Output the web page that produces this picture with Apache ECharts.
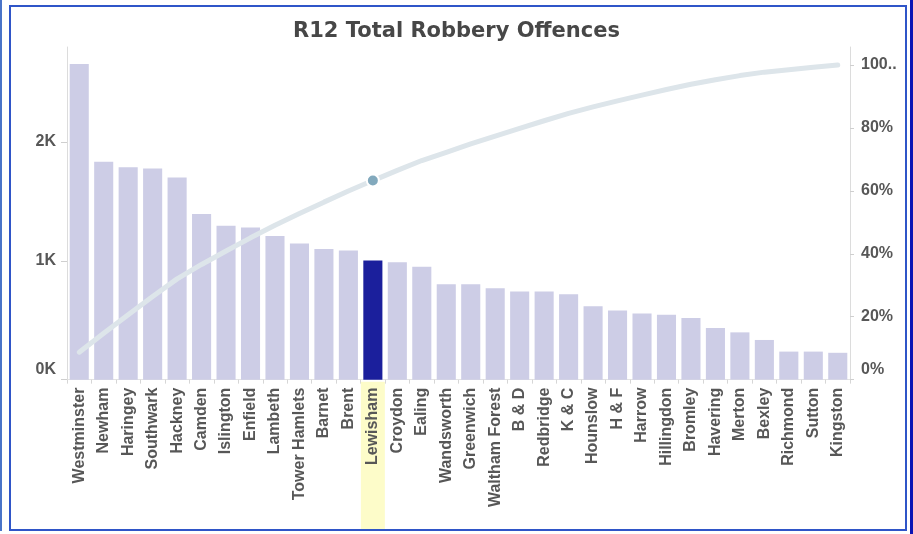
<!DOCTYPE html>
<html>
<head>
<meta charset="utf-8">
<script src="https://cdn.jsdelivr.net/npm/echarts@6/dist/echarts.min.js"></script>
<style>
  html, body { margin: 0; padding: 0; background: #fff; }
  #wrap { position: relative; width: 913px; height: 534px; overflow: hidden; background: #fff; }
  #chart { position: absolute; left: 0; top: 0; width: 913px; height: 534px; }
  .frame { position: absolute; left: 9px; top: 5px; width: 894px; height: 522px; border: 2px solid #2f55c8; pointer-events: none; }
  .outerL { position: absolute; left: 0; top: 0; width: 2px; height: 531px; background: #4a74c8; }
  .outerR { position: absolute; left: 910px; top: 0; width: 3px; height: 534px; background: #0a14b4; }
</style>
</head>
<body>
<div id="wrap">
  <div id="chart"></div>
  <div class="frame"></div>
  <div class="outerL"></div>
  <div class="outerR"></div>
</div>
<script>
const titleText = 'R12 Total Robbery Offences';
const boroughs = ['Westminster','Newham','Haringey','Southwark','Hackney','Camden','Islington','Enfield','Lambeth','Tower Hamlets','Barnet','Brent','Lewisham','Croydon','Ealing','Wandsworth','Greenwich','Waltham Forest','B & D','Redbridge','K & C','Hounslow','H & F','Harrow','Hillingdon','Bromley','Havering','Merton','Bexley','Richmond','Sutton','Kingston'];
const offences = [2657,1835,1788,1777,1702,1395,1295,1281,1209,1147,1100,1086,1003,988,950,802,802,769,741,741,718,618,582,557,546,518,434,398,334,236,236,226];
const highlighted = 'Lewisham';
const leftTicks = [0, 1000, 2000];
const rightTicks = [0, 0.2, 0.4, 0.6, 0.8, 1.0];

// Running share of total (Pareto line) derived from the bar values
const total = offences.reduce((a, b) => a + b, 0);
let run = 0;
const cumShare = offences.map(v => { run += v; return run / total; });

const chart = echarts.init(document.getElementById('chart'));
const labelFont = 'Liberation Sans, Arial, sans-serif';
const labelColor = '#575757';
const baseTxt = { fontFamily: labelFont, fontSize: 16, fontWeight: 'bold', color: labelColor };

chart.setOption({
  animation: false,
  backgroundColor: 'transparent',
  title: {
    text: titleText,
    left: 'center',
    top: 16,
    textStyle: { fontFamily: 'DejaVu Sans, sans-serif', fontSize: 21, fontWeight: 'bold', color: '#474747' }
  },
  grid: { left: 67, right: 63, top: 47, bottom: 152, containLabel: false },
  xAxis: {
    type: 'category',
    data: boroughs,
    boundaryGap: true,
    axisLine: { show: true, lineStyle: { color: '#e3e3e3', width: 1 } },
    axisTick: { show: true, alignWithLabel: false, interval: 0, length: 4, lineStyle: { color: '#d6d6d6' } },
    axisLabel: Object.assign({
      interval: 0,
      rotate: 90,
      margin: 2,
      formatter: v => v === highlighted ? '{hl|' + v + '}' : '{n|' + v + '}',
      rich: {
        n: Object.assign({ padding: [0, 6, 0, 0] }, baseTxt),
        hl: Object.assign({ backgroundColor: '#fdfcc9', padding: [4, 6, 4, 66] }, baseTxt)
      }
    }, baseTxt)
  },
  yAxis: [
    {
      type: 'value',
      min: 0,
      max: 2800,
      position: 'left',
      splitLine: { show: false },
      axisLine: { show: true, lineStyle: { color: '#dcdcdc' } },
      axisTick: { show: true, length: 6, lineStyle: { color: '#cfcfcf' }, customValues: leftTicks },
      axisLabel: Object.assign({
        customValues: leftTicks,
        margin: 11,
        formatter: v => v === 0 ? '{z|0K}' : (v / 1000) + 'K',
        rich: { z: Object.assign({ padding: [0, 0, 20, 0] }, baseTxt) }
      }, baseTxt)
    },
    {
      type: 'value',
      min: 0,
      max: 1.057,
      position: 'right',
      splitLine: { show: false },
      axisLine: { show: true, lineStyle: { color: '#dcdcdc' } },
      axisTick: { show: true, length: 4, lineStyle: { color: '#cfcfcf' }, customValues: rightTicks },
      axisLabel: Object.assign({
        customValues: rightTicks,
        margin: 11,
        formatter: v => v === 0 ? '{z|0%}' : (v > 0.99 ? '100..' : Math.round(v * 100) + '%'),
        rich: { z: Object.assign({ padding: [0, 0, 20, 0] }, baseTxt) }
      }, baseTxt)
    }
  ],
  series: [
    {
      type: 'bar',
      yAxisIndex: 0,
      barCategoryGap: '22%',
      data: offences.map((v, i) => ({
        value: v,
        itemStyle: { color: boroughs[i] === highlighted ? '#1b1f9c' : '#cdcde6' }
      })),
      z: 2
    },
    {
      type: 'line',
      yAxisIndex: 1,
      z: 5,
      smooth: false,
      lineStyle: { color: '#dde5ea', width: 5, cap: 'round' },
      data: cumShare.map((v, i) => boroughs[i] === highlighted
        ? { value: v, symbol: 'circle', symbolSize: 12, itemStyle: { color: '#82a9bd', borderColor: '#ffffff', borderWidth: 2 } }
        : { value: v, symbol: 'none' }),
      showSymbol: true
    }
  ]
});
</script>
</body>
</html>
